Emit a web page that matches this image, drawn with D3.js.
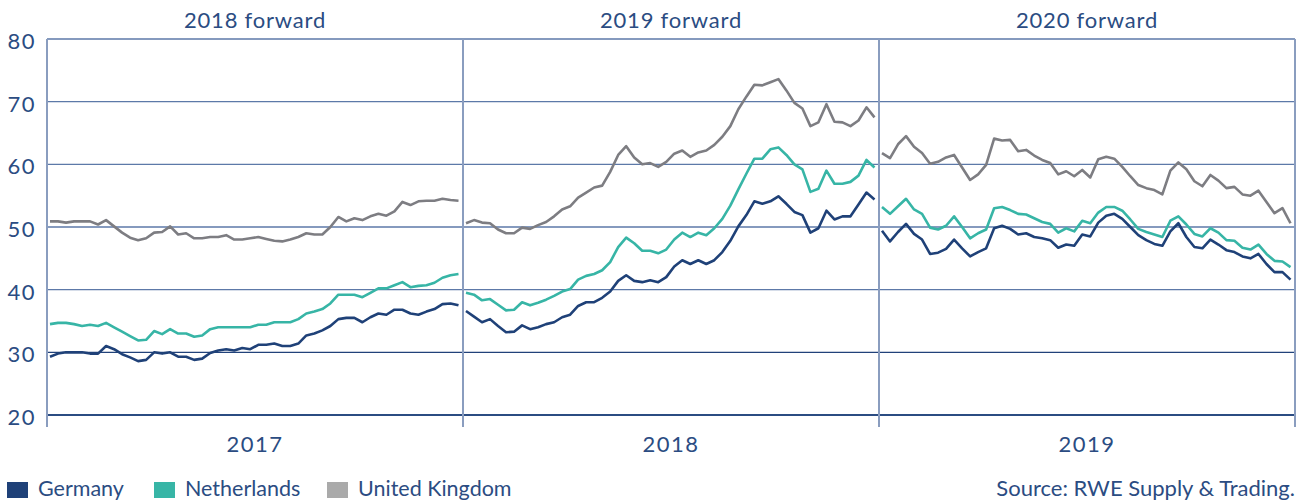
<!DOCTYPE html>
<html><head><meta charset="utf-8">
<script src="https://cdn.jsdelivr.net/npm/d3@7"></script>
<style>
html,body{margin:0;padding:0;background:#fff;}
svg{display:block;font-family:Lato,"Open Sans",sans-serif;}
</style></head>
<body><svg id="c" width="1296" height="502"></svg>
<script>
const panelTitles = ["2018 forward","2019 forward","2020 forward"];
const yearLabels = ["2017","2018","2019"];
const yTicks = [20,30,40,50,60,70,80];
const seriesNames = ["Germany","Netherlands","United Kingdom"];

const de2017 = [29.3,29.8,30.0,30.0,30.0,29.8,29.8,31.0,30.5,29.7,29.2,28.6,28.8,30.0,29.8,30.0,29.3,29.3,28.8,29.0,29.9,30.3,30.5,30.3,30.7,30.5,31.2,31.2,31.4,31.0,31.0,31.4,32.7,33.0,33.5,34.2,35.3,35.5,35.5,34.8,35.6,36.2,36.0,36.8,36.8,36.2,36.0,36.5,36.9,37.7,37.8,37.5];
const nl2017 = [34.5,34.7,34.7,34.5,34.2,34.4,34.2,34.7,34.0,33.3,32.6,31.9,32.0,33.4,32.9,33.7,33.0,33.0,32.5,32.7,33.7,34.0,34.0,34.0,34.0,34.0,34.4,34.4,34.8,34.8,34.8,35.3,36.2,36.5,36.9,37.8,39.2,39.2,39.2,38.8,39.5,40.2,40.2,40.7,41.2,40.4,40.6,40.7,41.1,41.9,42.3,42.5];
const uk2017 = [50.9,50.9,50.7,50.9,50.9,50.9,50.4,51.1,50.1,49.1,48.3,47.9,48.2,49.1,49.2,50.1,48.8,49.0,48.2,48.2,48.4,48.4,48.7,48.0,48.0,48.2,48.4,48.1,47.8,47.7,48.0,48.4,49.0,48.8,48.8,50.0,51.6,50.9,51.4,51.1,51.7,52.1,51.8,52.5,54.0,53.5,54.1,54.2,54.2,54.5,54.3,54.2];

const de2018 = [36.6,35.7,34.8,35.3,34.2,33.2,33.3,34.3,33.7,34.0,34.5,34.8,35.6,36.0,37.4,38.0,38.0,38.7,39.7,41.4,42.3,41.4,41.2,41.5,41.2,42.0,43.7,44.7,44.1,44.7,44.1,44.7,46.0,47.8,50.1,51.9,54.1,53.7,54.1,54.9,53.7,52.4,51.9,49.1,49.8,52.6,51.2,51.7,51.7,53.6,55.5,54.4];
const nl2018 = [39.5,39.2,38.3,38.5,37.6,36.7,36.8,38.0,37.5,37.9,38.4,39.0,39.7,40.1,41.6,42.2,42.5,43.1,44.4,46.8,48.3,47.4,46.2,46.2,45.8,46.4,48.0,49.1,48.4,49.1,48.7,49.8,51.3,53.4,56.0,58.5,60.9,60.9,62.4,62.7,61.5,60.0,59.2,55.6,56.1,59.0,56.9,56.9,57.2,58.2,60.7,59.5];
const uk2018 = [50.6,51.1,50.7,50.6,49.6,49.0,49.0,49.9,49.7,50.3,50.8,51.7,52.8,53.3,54.7,55.5,56.3,56.6,58.8,61.5,62.9,61.1,60.0,60.2,59.6,60.4,61.7,62.2,61.2,61.9,62.2,63.1,64.4,66.1,68.8,70.8,72.7,72.6,73.1,73.6,71.8,69.8,68.9,66.1,66.7,69.6,66.8,66.7,66.1,67.0,69.1,67.5];

const de2019 = [49.4,47.7,49.2,50.5,48.9,48.0,45.7,45.9,46.5,48.0,46.6,45.3,46.0,46.6,49.8,50.2,49.7,48.8,49.0,48.4,48.2,47.9,46.7,47.2,47.0,48.8,48.5,50.7,51.8,52.1,51.3,50.0,48.7,47.9,47.3,47.0,49.3,50.6,48.4,46.8,46.6,48.0,47.2,46.3,46.0,45.3,45.0,45.7,44.1,42.8,42.8,41.6];
const nl2019 = [53.2,52.1,53.3,54.5,52.8,52.1,49.9,49.6,50.2,51.7,50.0,48.2,49.0,49.6,53.0,53.2,52.7,52.1,52.0,51.4,50.8,50.5,49.1,49.8,49.3,51.0,50.6,52.3,53.2,53.2,52.6,51.2,49.7,49.2,48.8,48.4,51.0,51.7,50.4,48.9,48.5,49.8,49.1,47.9,47.8,46.7,46.4,47.2,45.7,44.6,44.5,43.6];
const uk2019 = [61.8,61.0,63.2,64.5,62.8,61.8,60.1,60.4,61.1,61.5,59.5,57.5,58.4,59.9,64.1,63.8,63.9,62.1,62.3,61.4,60.7,60.2,58.4,58.9,58.1,59.1,57.9,60.8,61.2,60.9,59.6,58.1,56.7,56.2,55.9,55.2,59.0,60.3,59.2,57.3,56.5,58.3,57.4,56.2,56.4,55.2,55.0,55.8,54.0,52.2,53.0,50.6];

const panels = [
  {title: panelTitles[0], year: yearLabels[0], series:[de2017,nl2017,uk2017]},
  {title: panelTitles[1], year: yearLabels[1], series:[de2018,nl2018,uk2018]},
  {title: panelTitles[2], year: yearLabels[2], series:[de2019,nl2019,uk2019]}
];
const colors = ["#1f4178","#37b5a6","#7d7d82"];
const legendColors = ["#1f4178","#37b5a6","#aaaaaa"];
const textColor = "#2b4c82";

const svg = d3.select("#c");
const mLeft = 47, mRight = 1295, mTop = 39, mBottom = 415;
const y = d3.scaleLinear().domain([20,80]).range([mBottom, mTop]);
const xp = d3.scaleBand().domain(d3.range(panels.length)).range([mLeft, mRight]).paddingInner(0).paddingOuter(0);

// horizontal gridlines
svg.append("g").selectAll("line").data(yTicks).join("line")
  .attr("x1", mLeft).attr("x2", mRight)
  .attr("y1", d=>y(d)).attr("y2", d=>y(d))
  .attr("stroke", d=> d===30 ? "#21427a" : (d===20 ? "#2b4c82" : "#5d79a8"))
  .attr("stroke-width", d=> d===20 ? 2 : 1.3);

// vertical separators
const vx = d3.range(panels.length+1).map(i => i<panels.length ? xp(i) : xp(panels.length-1)+xp.bandwidth());
svg.append("g").selectAll("line").data(vx).join("line")
  .attr("x1", d=>d).attr("x2", d=>d)
  .attr("y1", mTop).attr("y2", mBottom+12)
  .attr("stroke", "#8a9dbf").attr("stroke-width", 2);

// y axis labels
const yAxis = d3.axisLeft(y).tickValues(yTicks).tickSize(0).tickPadding(11);
const ga = svg.append("g").attr("transform", `translate(${mLeft},0)`).call(yAxis);
ga.select(".domain").remove();
ga.selectAll("text").attr("fill", textColor).attr("dy", null).attr("y", 9.5)
  .style("font-size","22px").style("letter-spacing","1.5px").attr("font-family","Lato,sans-serif");

panels.forEach((p,i)=>{
  const x0 = xp(i), x1 = x0 + xp.bandwidth();
  const n = p.series[0].length;
  const x = d3.scaleLinear().domain([0,n-1]).range([x0+3, x1-4.5]);
  const line = d3.line().x((d,j)=>x(j)).y(d=>y(d));
  [2,1,0].forEach(k=>{
    svg.append("path").datum(p.series[k])
      .attr("d", line).attr("fill","none")
      .attr("stroke", colors[k]).attr("stroke-width", 2.6)
      .attr("stroke-linejoin","round");
  });
  svg.append("text").attr("x",(x0+x1)/2).attr("y",28)
    .attr("text-anchor","middle").attr("fill",textColor)
    .style("font-size","22px").style("letter-spacing","0.8px").text(p.title);
  svg.append("text").attr("x",(x0+x1)/2).attr("y",452)
    .attr("text-anchor","middle").attr("fill",textColor)
    .style("font-size","22px").style("letter-spacing","1.5px").text(p.year);
});

// legend
const legX = [7, 154, 327];
seriesNames.forEach((s,k)=>{
  svg.append("rect").attr("x",legX[k]).attr("y",482).attr("width",21).attr("height",16)
    .attr("fill",legendColors[k]);
  svg.append("text").attr("x",legX[k]+31).attr("y",496).attr("fill",textColor)
    .style("font-size","21.5px").text(s);
});
svg.append("text").attr("x",1295).attr("y",496).attr("text-anchor","end")
  .attr("fill",textColor).style("font-size","22px").text("Source: RWE Supply & Trading.");
</script></body></html>
